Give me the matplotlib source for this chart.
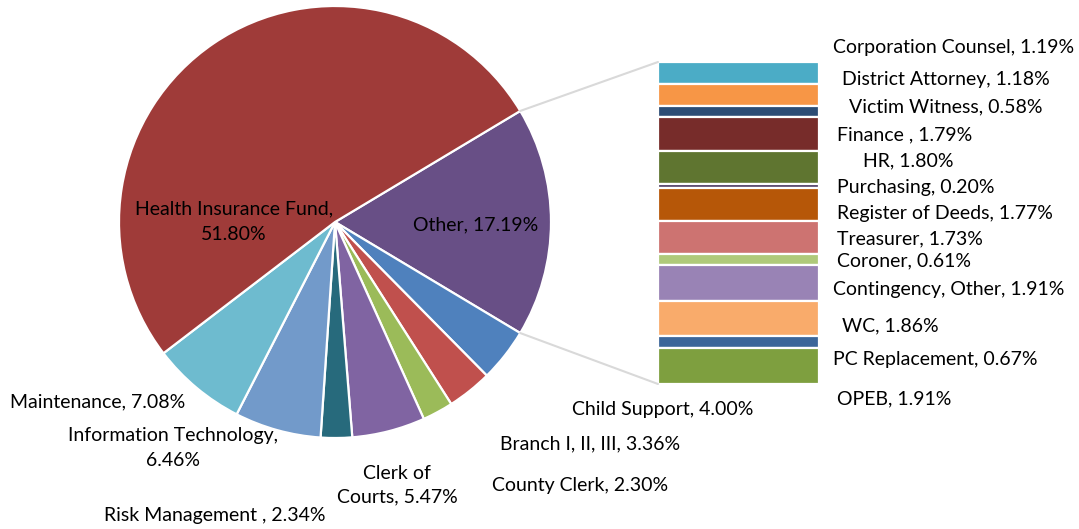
import matplotlib
matplotlib.use("Agg")
import matplotlib.pyplot as plt
from matplotlib.patches import ConnectionPatch
import numpy as np

plt.rcParams['font.family'] = ['Lato', 'DejaVu Sans']

# ---- data ----
pie_labels = ["Other", "Child Support", "Branch I, II, III", "County Clerk",
              "Clerk of Courts", "Risk Management ", "Information Technology",
              "Maintenance", "Health Insurance Fund"]
pie_values = [17.19, 4.00, 3.36, 2.30, 5.47, 2.34, 6.46, 7.08, 51.80]
pie_colors = ["#684F86", "#4F81BD", "#C0504D", "#9BBB59", "#8064A2",
              "#276A7C", "#729ACA", "#6EBBCF", "#9F3B39"]

bar_labels = ["Corporation Counsel", "District Attorney", "Victim Witness",
              "Finance ", "HR", "Purchasing", "Register of Deeds", "Treasurer",
              "Coroner", "Contingency, Other", "WC", "PC Replacement", "OPEB"]
bar_values = [1.19, 1.18, 0.58, 1.79, 1.80, 0.20, 1.77, 1.73, 0.61, 1.91,
              1.86, 0.67, 1.91]
bar_colors = ["#4BACC6", "#F79646", "#2C4D75", "#772C2A", "#5F7530",
              "#4D3B62", "#B65708", "#CD7371", "#AFC97A", "#9983B5",
              "#F9AB6B", "#3C6699", "#7E9F3F"]

W, H = 1079, 529
fig = plt.figure(figsize=(W / 100, H / 100), dpi=100)
ax = fig.add_axes([0, 0, 1, 1])

cx, cy, r = 335, H - 222, 216
start = pie_values[0] / 2 * 3.6
wedges, _ = ax.pie(pie_values, colors=pie_colors, startangle=start,
                   counterclock=False, center=(cx, cy), radius=r,
                   wedgeprops=dict(edgecolor='white', linewidth=1.6),
                   frame=True)
ax.set_xlim(0, W)
ax.set_ylim(0, H)
ax.set_aspect('equal')
ax.axis('off')

# ---- stacked bar ----
bx0, bx1, by0, by1 = 658, 819, 62, 384
bax = fig.add_axes([bx0 / W, 1 - by1 / H, (bx1 - bx0) / W, (by1 - by0) / H])
total = sum(bar_values)
bottoms = np.concatenate([[0], np.cumsum(bar_values)[:-1]])
bax.bar([0] * len(bar_values), bar_values, bottom=bottoms, width=1.0,
        color=bar_colors, edgecolor='white', linewidth=1.6)
bax.set_xlim(-0.5, 0.5)
bax.set_ylim(total, 0)
bax.axis('off')

# connector lines
a1 = np.deg2rad(start)
p_top = (cx + r * np.cos(a1), cy + r * np.sin(a1))
p_bot = (cx + r * np.cos(-a1), cy + r * np.sin(-a1))
for p, q in [(p_top, (-0.5, 0)), (p_bot, (-0.5, total))]:
    con = ConnectionPatch(xyA=p, coordsA=ax.transData, xyB=q,
                          coordsB=bax.transData, color='#D9D9D9', lw=1.5)
    fig.add_artist(con)

fs = 14
def T(x, y, s, ha='left', ls=1.55):
    ax.text(x, H - y, s, fontsize=fs, ha=ha, va='center', color='black',
            linespacing=ls)

# pie labels
T(234, 222, "Health Insurance Fund,\n51.80%", ha='center', ls=1.6)
T(476, 225, "Other, 17.19%", ha='center')
T(10, 402, "Maintenance, 7.08%")
T(173, 448, "Information Technology,\n6.46%", ha='center')
T(215, 516, "Risk Management , 2.34%", ha='center')
T(397, 485, "Clerk of\nCourts, 5.47%", ha='center', ls=1.45)
T(572, 409, "Child Support, 4.00%")
T(500, 444, "Branch I, II, III, 3.36%")
T(492, 486, "County Clerk, 2.30%")

# bar labels
right = [(833, 47), (842, 80), (849, 107), (837, 135), (863, 161), (837, 187),
         (837, 214), (837, 239), (837, 261), (833, 289), (842, 326), (833, 360),
         (837, 399)]
for (x, y), lab, v in zip(right, bar_labels, bar_values):
    T(x, y, f"{lab}, {v:.2f}%")

fig.savefig("out.png", dpi=100)
